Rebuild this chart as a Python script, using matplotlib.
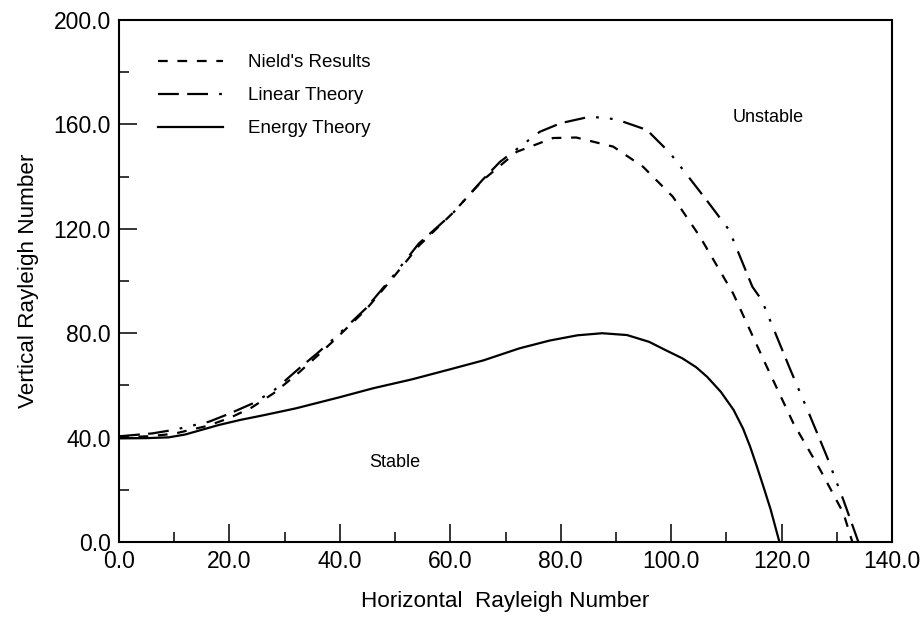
import matplotlib
matplotlib.use("Agg")
import matplotlib.pyplot as plt
from matplotlib.ticker import MultipleLocator, FormatStrFormatter

plt.rcParams["font.family"] = ["Liberation Sans", "DejaVu Sans"]

# values
nield_x = [0, 6, 10, 16, 20, 24, 28, 32.6, 36, 39.3, 44.7, 49.5, 54.3, 60.4, 65.8, 72, 78.6,
           82.8, 89.5, 94.9, 100.3, 105.2, 111.2, 117.3, 122.1, 127, 131.2, 132.8]
nield_y = [40, 40.6, 41.5, 44.5, 47.5, 51.5, 57, 65, 71.5, 78, 89, 101, 113.5, 126, 138.5, 149.5,
           154.8, 155, 151.5, 143.8, 132.3, 117, 95.3, 67.2, 45.6, 27.6, 11, 0]

linear_x = [0, 6, 10, 16.3, 20, 24.2, 28, 32.6, 36, 39.3, 44.7, 49.5, 54.3, 60.4, 65.8, 69, 76.2,
            80, 85.3, 90, 95.6, 99.8, 106.4, 110.5, 114.7, 116.4, 121.6, 125.2, 128.2, 131.2, 133.9]
linear_y = [40.5, 41.6, 43, 46.1, 49.2, 53.1, 58, 66.5, 72.5, 78.7, 89.5, 101.6, 114.4, 125.9, 138.7,
            145.7, 157.2, 160.5, 163, 162, 157.9, 149, 131, 119.5, 97.8, 92.7, 65.9, 48, 32.7, 16, 0]

energy_x = [0, 5, 9, 12, 15, 18, 22, 26, 32, 40, 46, 53, 60, 66, 72.5, 78, 83, 87.5, 92, 96, 99,
            102, 104.5, 106.5, 109, 111.3, 113, 114.3, 115.5, 116.7, 118, 119.6]
energy_y = [39.7, 39.8, 40.1, 41.2, 43, 44.8, 46.8, 48.5, 51.2, 55.5, 58.9, 62.3, 66.2, 69.6, 74.2,
            77.2, 79.2, 80, 79.3, 76.7, 73.5, 70.4, 67, 63.3, 57.5, 50.6, 43.5, 36.5, 29, 21.2, 12.5, 0]

labels = ["Nield's Results", "Linear Theory", "Energy Theory"]

fig = plt.figure(figsize=(9.23, 6.18), dpi=100)
ax = fig.add_axes([0.129, 0.123, 0.8375, 0.8445])

lw = 1.6
ax.plot(nield_x, nield_y, color="black", lw=lw, linestyle=(0, (7 / lw, 7 / lw)), label=labels[0])
ax.plot(linear_x, linear_y, color="black", lw=lw,
        linestyle=(0, (15 / lw, 6 / lw, 15 / lw, 8 / lw, 2 / lw, 8 / lw, 2 / lw, 8 / lw)), label=labels[1])
ax.plot(energy_x, energy_y, color="black", lw=lw, label=labels[2])

ax.text(50, 30.5, "Stable", fontsize=13, ha="center", va="center")
ax.text(117.5, 162.5, "Unstable", fontsize=13, ha="center", va="center")

ax.set_xlim(0, 140)
ax.set_ylim(0, 200)
ax.xaxis.set_major_locator(MultipleLocator(20))
ax.xaxis.set_minor_locator(MultipleLocator(10))
ax.yaxis.set_major_locator(MultipleLocator(40))
ax.yaxis.set_minor_locator(MultipleLocator(20))
ax.xaxis.set_major_formatter(FormatStrFormatter("%.1f"))
ax.yaxis.set_major_formatter(FormatStrFormatter("%.1f"))
ax.tick_params(which="major", direction="in", length=13, width=1.1, labelsize=16.5)
ax.tick_params(which="minor", direction="in", length=7, width=1.1)
ax.tick_params(axis="x", which="major", pad=6)
ax.tick_params(axis="y", which="major", pad=6)
for spine in ax.spines.values():
    spine.set_linewidth(1.5)

ax.set_xlabel("Horizontal  Rayleigh Number", fontsize=16.2, labelpad=13)
ax.set_ylabel("Vertical Rayleigh Number", fontsize=16.2, labelpad=10)

ax.legend(loc="upper left", bbox_to_anchor=(0.05, 0.935), frameon=False, fontsize=13.5,
          handlelength=3.5, handletextpad=1.3, labelspacing=0.85, borderpad=0, borderaxespad=0)

fig.savefig("out.png", dpi=100)
